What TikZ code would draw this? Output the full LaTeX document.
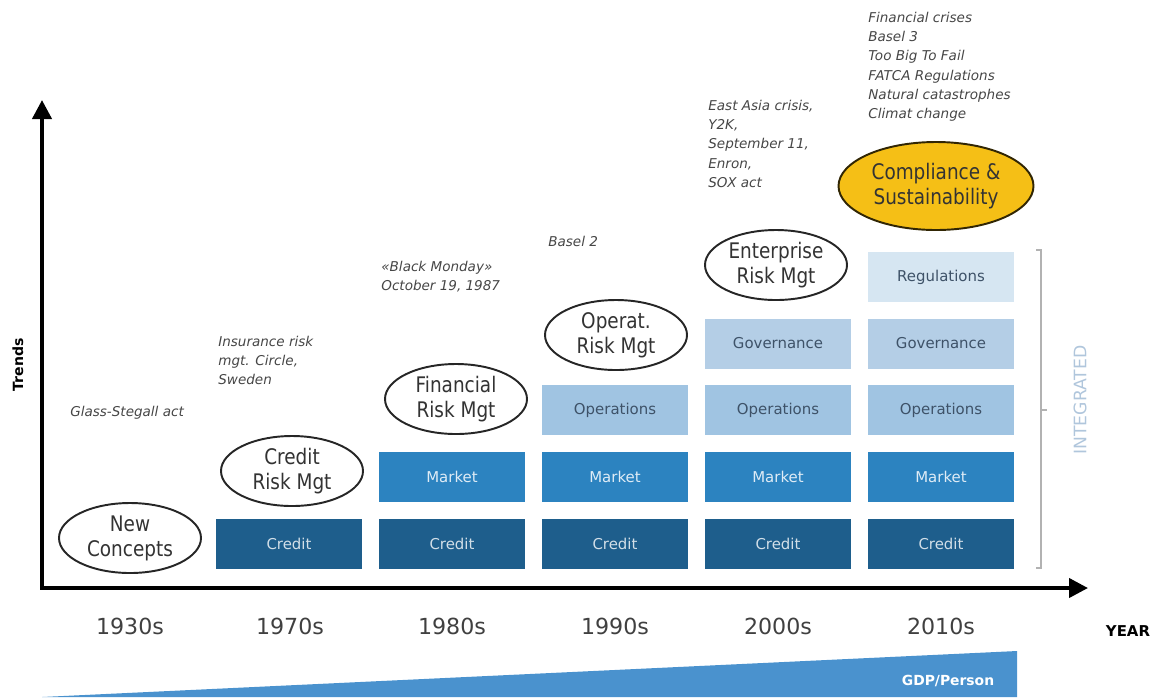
\documentclass[tikz,border=0pt]{standalone}
\usepackage{fontspec}
\setmainfont{DejaVu Sans}
\newfontfamily\ovalfont[FakeStretch=0.86]{DejaVu Sans}
\usepackage{tikz}
\usetikzlibrary{arrows.meta,shapes.geometric}
\usepackage{xcolor}
\definecolor{rkdark}{RGB}{30,94,140}
\definecolor{rkmid}{RGB}{44,131,192}
\definecolor{rklight}{RGB}{160,196,226}
\definecolor{rkpale}{RGB}{180,206,230}
\definecolor{rkpaler}{RGB}{214,230,242}
\definecolor{rkgold}{RGB}{245,191,22}
\definecolor{rkgdp}{RGB}{74,146,206}
\definecolor{rktext}{RGB}{70,70,70}
\definecolor{rkslate}{RGB}{62,82,104}
\definecolor{rkinteg}{RGB}{176,198,220}
\tikzstyle{riskbox} = [minimum width=29.2mm, minimum height=10mm, inner sep=0pt, font=\fontsize{8.5}{10}\selectfont]
\tikzstyle{creditbox} = [riskbox, fill=rkdark, text=white!80!rkdark]
\tikzstyle{marketbox} = [riskbox, fill=rkmid, text=white!85!rkmid]
\tikzstyle{opsbox} = [riskbox, fill=rklight, text=rkslate]
\tikzstyle{govbox} = [riskbox, fill=rkpale, text=rkslate]
\tikzstyle{regbox} = [riskbox, fill=rkpaler, text=rkslate]
\tikzstyle{trendoval} = [ellipse, draw=black!85, line width=1.1pt, fill=white, minimum width=28.4mm, minimum height=14mm, inner sep=0pt, align=center, font=\ovalfont\fontsize{12.2}{14.2}\selectfont, text=black!80]
\tikzstyle{event} = [anchor=north west, inner sep=0pt, align=left, text=rktext, font=\itshape\fontsize{7.7}{10.9}\selectfont]
\tikzstyle{decade} = [font=\fontsize{12.6}{14}\selectfont, text=black!75]
\tikzstyle{axis} = [line width=2.3pt, {Triangle[length=3.8mm,width=3.8mm]}-{Triangle[length=3.8mm,width=3.8mm]}]

\begin{document}
\begin{tikzpicture}[x=0.2mm, y=-0.2mm]
\useasboundingbox (0,0) rectangle (1155,699);

% axes
\coordinate (ytop) at (42,100);
\coordinate (orig) at (42,588);
\coordinate (xend) at (1088,588);
\draw[axis] (ytop) -- (orig) -- (xend);
\node[rotate=90, font=\bfseries\fontsize{8}{10}\selectfont] (trends) at (18,365) {Trends};
\node[font=\bfseries\fontsize{8.5}{10}\selectfont] (year) at (1128,631) {YEAR};

% 1930s column
\node[trendoval] (newconc) at (130,538) {New\\Concepts};
\node[event, anchor=west] (glass) at (70,413) {Glass-Stegall act};
\node[decade] (y30) at (130,626) {1930s};

% 1970s column
\node[creditbox] (credit70) at (289,543.5) {Credit};
\node[trendoval] (crisk) at (292,471) {Credit\\Risk Mgt};
\node[event] (insur) at (218,336) {Insurance risk\\mgt. Circle,\\Sweden};
\node[decade] (y70) at (290,626) {1970s};

% 1980s column
\node[creditbox] (credit80) at (452,543.5) {Credit};
\node[marketbox] (market80) at (452,477) {Market};
\node[trendoval] (finrisk) at (456,399) {Financial\\Risk Mgt};
\node[event] (blackmon) at (381,261) {«Black Monday»\\October 19, 1987};
\node[decade] (y80) at (452,626) {1980s};

% 1990s column
\node[creditbox] (credit90) at (615,543.5) {Credit};
\node[marketbox] (market90) at (615,477) {Market};
\node[opsbox] (ops90) at (615,410) {Operations};
\node[trendoval] (oprisk) at (616,335) {Operat.\\Risk Mgt};
\node[event, anchor=west] (basel2) at (548,241) {Basel 2};
\node[decade] (y90) at (615,626) {1990s};

% 2000s column
\node[creditbox] (credit00) at (778,543.5) {Credit};
\node[marketbox] (market00) at (778,477) {Market};
\node[opsbox] (ops00) at (778,410) {Operations};
\node[govbox] (gov00) at (778,343.5) {Governance};
\node[trendoval] (entrisk) at (776,265) {Enterprise\\Risk Mgt};
\node[event] (eastasia) at (708,100) {East Asia crisis,\\Y2K,\\September 11,\\Enron,\\SOX act};
\node[decade] (y00) at (778,626) {2000s};

% 2010s column
\node[creditbox] (credit10) at (941,543.5) {Credit};
\node[marketbox] (market10) at (941,477) {Market};
\node[opsbox] (ops10) at (941,410) {Operations};
\node[govbox] (gov10) at (941,343.5) {Governance};
\node[regbox] (reg10) at (941,277) {Regulations};
\node[trendoval, fill=rkgold, draw=black!80!rkgold, minimum width=39mm, minimum height=17.6mm] (compl) at (936,186) {Compliance \&\\Sustainability};
\node[event] (fincris) at (868,12) {Financial crises\\Basel 3\\Too Big To Fail\\FATCA Regulations\\Natural catastrophes\\Climat change};
\node[decade] (y10) at (941,626) {2010s};

% integrated bracket
\draw[black!30, line width=0.6pt] (1036,250) -- (1041,250) -- (1041,568) -- (1036,568);
\draw[black!30, line width=0.6pt] (1041,410) -- (1047,410);
\node[rotate=90, text=rkinteg, font=\fontsize{9.8}{11}\selectfont] (integ) at (1080,400) {INTEGRATED};

% GDP wedge
\fill[rkgdp] (42,697) -- (1017,651) -- (1017,697) -- cycle;
\node[text=white, font=\bfseries\fontsize{7.9}{9}\selectfont] (gdp) at (948,681) {GDP/Person};
\end{tikzpicture}
\end{document}
